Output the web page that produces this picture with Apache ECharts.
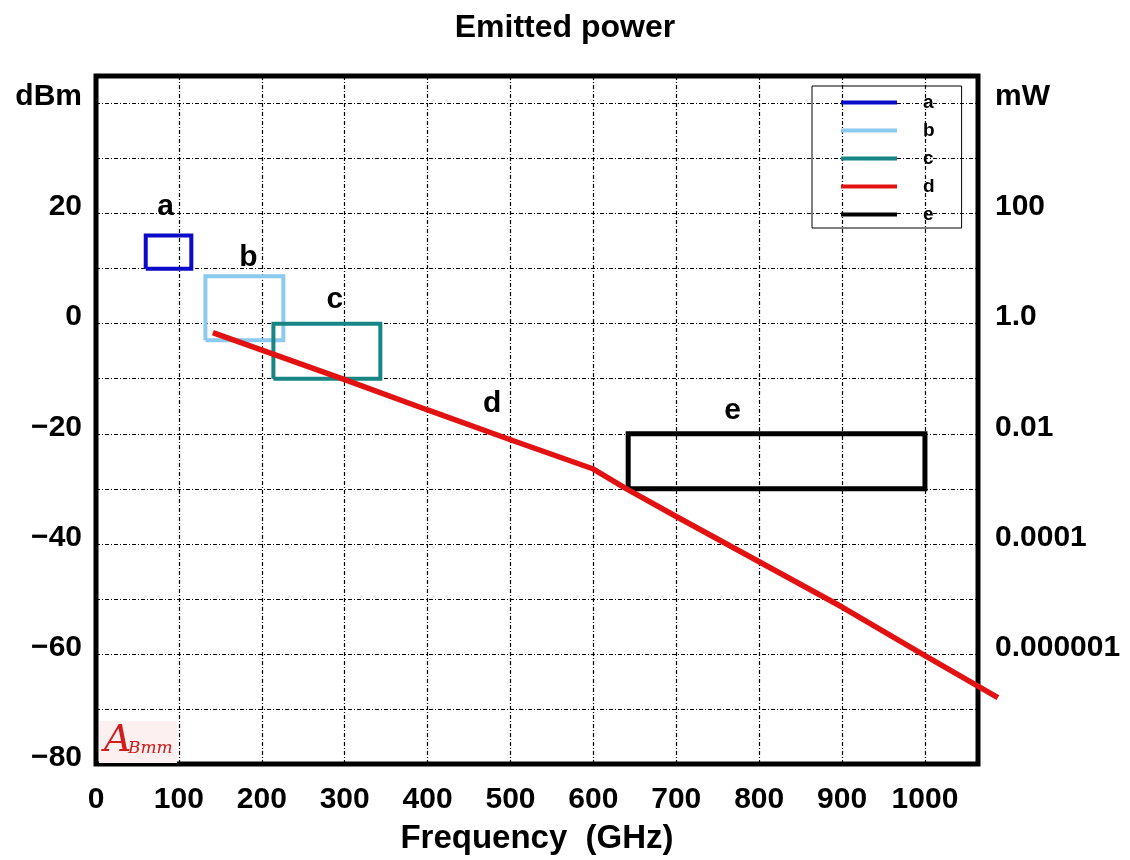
<!DOCTYPE html>
<html>
<head>
<meta charset="utf-8">
<title>Emitted power</title>
<script src="https://cdn.jsdelivr.net/npm/echarts@6/dist/echarts.min.js"></script>
<style>
  html, body { margin: 0; padding: 0; background: #ffffff; }
  #chart { width: 1130px; height: 860px; }
</style>
</head>
<body>
<div id="chart"></div>
<script>
// Source bands, each as [freqMin, freqMax, powerMin, powerMax] (GHz, dBm)
const bandA = [60, 115, 10, 16];
const bandB = [132, 226, -3, 8.6];
const bandC = [214, 343, -10, 0];
const bandE = [642, 1000, -30, -20];

// Source d: emitted power vs frequency
const dFreq  = [141, 300, 400, 500, 600, 640, 700, 800, 900, 1000, 1088];
const dPower = [-1.5, -10, -15.5, -20.9, -26.2, -29.8, -34.8, -43, -51.2, -60, -67.6];

// Series names and colours
const seriesNames  = ['a', 'b', 'c', 'd', 'e'];
const seriesColors = ['#0a0ac8', '#8cc9ef', '#168584', '#e31212', '#000000'];

// Name tags placed next to each source, [freq, dBm]
const tagFreq  = [84, 184, 288, 478, 768];
const tagPower = [21.3, 12, 4.4, -14.6, -15.9];

// Axis tick labels
const freqTicks     = [0, 100, 200, 300, 400, 500, 600, 700, 800, 900, 1000];
const dbmTickValues = [-80, -60, -40, -20, 0, 20, 40];
const dbmTickLabels = ['\u221280', '\u221260', '\u221240', '\u221220', '0', '20', 'dBm'];
const mwTickLabels  = ['', '0.000001', '0.0001', '0.01', '1.0', '100', 'mW'];

// Plot frame in pixels and the frequency span it shows
const FRAME = { left: 96, top: 76, right: 152, bottom: 94 };
const CW = 1130;
const FREQ_MAX = 1064;
// The d curve runs a little past the right edge of the frame, so it lives on an
// overlay grid that keeps the same GHz-per-pixel scale but reaches further right.
const OVER_MAX = 1100;
const frameWidth = CW - FRAME.left - FRAME.right;
const overRight = CW - FRAME.left - frameWidth * OVER_MAX / FREQ_MAX;

// Closed rectangle outline for a band
function outline(b) {
  return [[b[0], b[2]], [b[1], b[2]], [b[1], b[3]], [b[0], b[3]], [b[0], b[2]]];
}

const FONT = '"Liberation Sans", Arial, Helvetica, sans-serif';
const gridLine = { color: '#000', width: 1.2, type: [4, 2, 1, 2] };

function bandSeries(name, band, color, width) {
  return {
    name: name,
    type: 'line',
    data: outline(band),
    symbol: 'none',
    color: color,
    lineStyle: { color: color, width: width, join: 'miter' },
    itemStyle: { color: color },
    silent: true,
    z: 3
  };
}

// Power-axis labels sit a little above their grid lines
const powerLabelStyle = {
  fontFamily: FONT, fontSize: 30, fontWeight: 'bold', color: '#000',
  verticalAlign: 'bottom', lineHeight: 13
};

const chart = echarts.init(document.getElementById('chart'), null, { renderer: 'canvas' });

const option = {
  backgroundColor: '#ffffff',
  animation: false,
  title: {
    text: 'Emitted power',
    left: 'center',
    top: 7,
    textStyle: { fontFamily: FONT, fontSize: 32, fontWeight: 'bold', color: '#000' }
  },
  grid: [
    {
      left: FRAME.left, top: FRAME.top, right: FRAME.right, bottom: FRAME.bottom,
      show: true,
      borderColor: '#000',
      borderWidth: 5,
      backgroundColor: '#ffffff'
    },
    {
      left: FRAME.left, top: FRAME.top, right: overRight, bottom: FRAME.bottom,
      show: false
    }
  ],
  legend: {
    data: seriesNames,
    orient: 'vertical',
    left: 812,
    top: 86,
    padding: [7, 27, 4, 29],
    itemWidth: 56,
    itemHeight: 4,
    itemGap: 9,
    icon: 'rect',
    borderColor: '#000',
    borderWidth: 1,
    selectedMode: false,
    textStyle: {
      fontFamily: FONT, fontSize: 19, fontWeight: 'bold', color: '#000',
      lineHeight: 16, padding: [0, 0, 0, 21]
    }
  },
  xAxis: [
    {
      type: 'value',
      gridIndex: 0,
      min: 0,
      max: FREQ_MAX,
      interval: 100,
      name: 'Frequency  (GHz)',
      nameLocation: 'middle',
      nameGap: 58,
      nameTextStyle: { fontFamily: FONT, fontSize: 33, fontWeight: 'bold', color: '#000' },
      axisLine: { show: false },
      axisTick: { show: false },
      splitLine: { show: true, lineStyle: gridLine },
      axisLabel: {
        margin: 21,
        fontFamily: FONT, fontSize: 30, fontWeight: 'bold', color: '#000',
        formatter: v => (freqTicks.indexOf(v) >= 0 ? String(v) : '')
      }
    },
    {
      type: 'value',
      gridIndex: 1,
      min: 0,
      max: OVER_MAX,
      show: false
    }
  ],
  yAxis: [
    {
      type: 'value',
      gridIndex: 0,
      position: 'left',
      min: -80,
      max: 45,
      interval: 10,
      axisLine: { show: false },
      axisTick: { show: false },
      splitLine: { show: true, lineStyle: gridLine },
      axisLabel: Object.assign({
        margin: 14,
        formatter: v => {
          const i = dbmTickValues.indexOf(v);
          return i >= 0 ? dbmTickLabels[i] : '';
        }
      }, powerLabelStyle)
    },
    {
      type: 'value',
      gridIndex: 0,
      position: 'right',
      min: -80,
      max: 45,
      interval: 10,
      axisLine: { show: false },
      axisTick: { show: false },
      splitLine: { show: false },
      axisLabel: Object.assign({
        margin: 17,
        formatter: v => {
          const i = dbmTickValues.indexOf(v);
          return i >= 0 ? mwTickLabels[i] : '';
        }
      }, powerLabelStyle)
    },
    {
      type: 'value',
      gridIndex: 1,
      min: -80,
      max: 45,
      show: false
    }
  ],
  graphic: [
    // maker's logo in the lower-left corner of the plot
    { type: 'rect', left: 99, top: 721, z: 1, shape: { width: 78, height: 42 }, style: { fill: '#fcf0f0' } },
    { type: 'text', left: 104, top: 722, z: 2, style: { text: 'A', font: 'italic 38px "DejaVu Serif", serif', fill: '#d21c1c' } },
    { type: 'text', left: 128, top: 740, z: 2, style: { text: 'Bmm', font: 'italic 17px "DejaVu Serif", serif', fill: '#d21c1c' } }
  ],
  series: [
    bandSeries('a', bandA, seriesColors[0], 4),
    bandSeries('b', bandB, seriesColors[1], 4),
    bandSeries('c', bandC, seriesColors[2], 4),
    {
      name: 'd',
      type: 'line',
      xAxisIndex: 1,
      yAxisIndex: 2,
      data: dFreq.map((f, i) => [f, dPower[i]]),
      symbol: 'none',
      clip: false,
      color: seriesColors[3],
      lineStyle: { color: seriesColors[3], width: 5.5 },
      itemStyle: { color: seriesColors[3] },
      silent: true,
      z: 4
    },
    bandSeries('e', bandE, seriesColors[4], 5),
    {
      name: 'tags',
      type: 'scatter',
      symbolSize: 0,
      silent: true,
      itemStyle: { opacity: 1 },
      data: seriesNames.map((n, i) => ({ name: n, value: [tagFreq[i], tagPower[i]] })),
      label: {
        show: true,
        position: 'inside',
        formatter: p => p.name,
        fontFamily: FONT, fontSize: 30, fontWeight: 'bold', color: '#000', opacity: 1
      },
      z: 5
    }
  ]
};

chart.setOption(option);
</script>
</body>
</html>
